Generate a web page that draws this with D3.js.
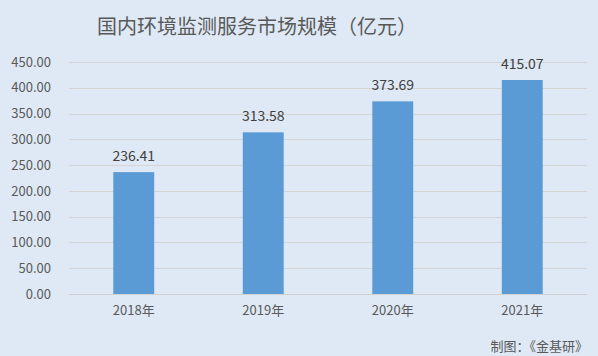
<!DOCTYPE html>
<html><head><meta charset="utf-8">
<script src="https://cdn.jsdelivr.net/npm/d3@7"></script>
<style>body{margin:0;background:#dee9f5;}svg{display:block;}</style>
</head><body>
<svg id="c" width="598" height="356"></svg>
<script>
const categories = ["2018年","2019年","2020年","2021年"];
const values = [236.41, 313.58, 373.69, 415.07];
const yTicks = [0,50,100,150,200,250,300,350,400,450];
const title = "国内环境监测服务市场规模（亿元）";
const source = "制图：《金基研》";

const W=598,H=356;
const m={left:69,right:11,top:62,bottom:62};
const svg=d3.select("#c");
svg.append("rect").attr("width",W).attr("height",H).attr("fill","#dee9f5");
const font="'Microsoft YaHei','Noto Sans CJK SC','DejaVu Sans',sans-serif";
const x=d3.scaleBand().domain(categories).range([m.left,W-m.right]).paddingInner(0.684).paddingOuter(0.342);
const y=d3.scaleLinear().domain([0,450]).range([H-m.bottom,m.top]);

const grid=svg.append("g");
grid.selectAll("line").data(yTicks.filter(d=>d>0)).join("line")
  .attr("x1",m.left).attr("x2",W-m.right)
  .attr("y1",d=>Math.round(y(d))+0.5).attr("y2",d=>Math.round(y(d))+0.5)
  .attr("stroke","#d4d4d4").attr("stroke-width",1);

const yAxis=svg.append("g").attr("transform",`translate(${m.left},0)`)
  .call(d3.axisLeft(y).tickValues(yTicks).tickFormat(d3.format(".2f")).tickSize(0).tickPadding(18));
yAxis.select(".domain").remove();
yAxis.selectAll("text").attr("font-family",font).attr("font-size",13).attr("fill","#595959");

svg.selectAll("rect.bar").data(values).join("rect").attr("class","bar")
  .attr("x",(d,i)=>x(categories[i])).attr("width",x.bandwidth())
  .attr("y",d=>y(d)).attr("height",d=>y(0)-y(d)).attr("fill","#5b9bd5");

svg.append("line").attr("x1",m.left).attr("x2",W-m.right)
  .attr("y1",Math.round(y(0))+0.5).attr("y2",Math.round(y(0))+0.5)
  .attr("stroke","#d0d0d0");

const xAxis=svg.append("g").attr("transform",`translate(0,${y(0)})`)
  .call(d3.axisBottom(x).tickSize(0).tickPadding(12));
xAxis.select(".domain").remove();
xAxis.selectAll("text").attr("font-family",font).attr("font-size",13).attr("fill","#595959");

svg.selectAll("text.val").data(values).join("text").attr("class","val")
  .attr("x",(d,i)=>x(categories[i])+x.bandwidth()/2).attr("y",d=>y(d)-11)
  .attr("text-anchor","middle").attr("font-family",font).attr("font-size",14).attr("fill","#404040")
  .text(d=>d.toFixed(2));

svg.append("text").attr("x",257).attr("y",34).attr("text-anchor","middle")
  .attr("font-family",font).attr("font-size",20).attr("fill","#595959").text(title);

svg.append("text").attr("x",588).attr("y",351).attr("text-anchor","end")
  .attr("font-family",font).attr("font-size",13).attr("fill","#595959").text(source);
</script>
</body></html>
